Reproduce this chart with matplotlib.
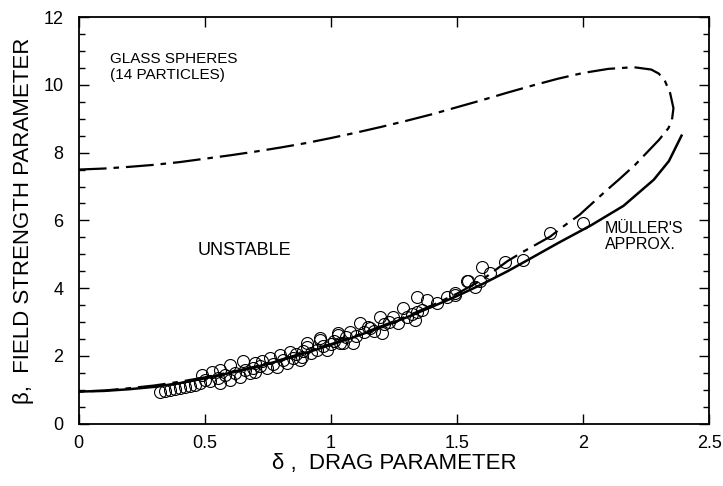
import matplotlib
matplotlib.use("Agg")
import matplotlib.pyplot as plt
from matplotlib.ticker import MultipleLocator

plt.rcParams['font.family'] = ['Liberation Sans', 'DejaVu Sans']
plt.rcParams['lines.scale_dashes'] = False

# solid curve (Muller's approximation)
solid_x = [0, 0.1, 0.2, 0.3, 0.4, 0.5, 0.6, 0.7, 0.8, 0.9, 1.0, 1.1, 1.2, 1.3,
           1.4, 1.5, 1.6, 1.7, 1.78, 1.9, 2.03, 2.16, 2.28, 2.34, 2.39]
solid_y = [0.95, 0.97, 1.02, 1.09, 1.2, 1.34, 1.5, 1.67, 1.87, 2.09, 2.33, 2.58,
           2.85, 3.14, 3.45, 3.77, 4.12, 4.5, 4.83, 5.33, 5.85, 6.43, 7.2, 7.75, 8.5]

# dash-dot stability boundary (upper branch, nose, lower branch)
bound_x = [0, 0.1, 0.2, 0.3, 0.4, 0.5, 0.6, 0.7, 0.8, 0.9, 1.0, 1.1, 1.2, 1.3,
           1.4, 1.5, 1.6, 1.7, 1.8, 1.9, 2.0, 2.1, 2.2, 2.27, 2.3, 2.325, 2.345,
           2.358, 2.352, 2.338, 2.3, 2.206, 2.144, 2.087, 1.985, 1.93, 1.869,
           1.763, 1.7, 1.6, 1.5, 1.4, 1.3, 1.2, 1.1, 1.0, 0.9, 0.8, 0.7, 0.6,
           0.5, 0.4, 0.3, 0.2, 0.1, 0]
bound_y = [7.5, 7.53, 7.58, 7.64, 7.72, 7.82, 7.92, 8.03, 8.15, 8.28, 8.43,
           8.59, 8.76, 8.94, 9.13, 9.34, 9.55, 9.77, 9.98, 10.18, 10.35, 10.47,
           10.52, 10.45, 10.33, 10.1, 9.75, 9.31, 8.96, 8.72, 8.37, 7.64, 7.22,
           6.85, 6.16, 5.87, 5.52, 5.08, 4.8, 4.25, 3.84, 3.49, 3.17, 2.88,
           2.6, 2.35, 2.11, 1.89, 1.69, 1.52, 1.37, 1.24, 1.13, 1.05, 0.98, 0.95]

# measured points (glass spheres)
data_x = [0.32, 0.34, 0.36, 0.38, 0.40, 0.42, 0.44, 0.46, 0.48, 0.49, 0.50,
          0.52, 0.53, 0.55, 0.56, 0.56, 0.58, 0.60, 0.60, 0.62, 0.64, 0.65,
          0.66, 0.68, 0.69, 0.70, 0.70, 0.72,
          0.725, 0.745, 0.758, 0.77, 0.784, 0.798, 0.81, 0.824, 0.837, 0.85,
          0.86, 0.877, 0.884, 0.89,
          0.904, 0.904, 0.92, 0.943, 0.956, 0.956, 0.97, 0.983, 1.0, 1.01,
          1.029, 1.029, 1.036, 1.049, 1.06, 1.075, 1.089, 1.1,
          1.115, 1.13, 1.148, 1.155, 1.17, 1.194, 1.201, 1.21, 1.23, 1.247,
          1.267, 1.287, 1.3, 1.32, 1.333, 1.34, 1.34,
          1.36, 1.38, 1.42, 1.459, 1.492, 1.492, 1.538, 1.545, 1.571, 1.59,
          1.598, 1.631, 1.69, 1.763, 1.869, 2.0]
data_y = [0.95, 0.97, 1.0, 1.02, 1.05, 1.08, 1.12, 1.15, 1.2, 1.44, 1.3,
          1.25, 1.54, 1.35, 1.2, 1.59, 1.45, 1.3, 1.74, 1.5, 1.39, 1.84,
          1.6, 1.49, 1.65, 1.79, 1.54, 1.7,
          1.84, 1.64, 1.94, 1.75, 1.69, 2.03, 1.88, 1.79, 2.13, 1.95,
          2.05, 1.89, 1.98, 2.15,
          2.28, 2.38, 2.1, 2.18, 2.48, 2.53, 2.3, 2.18, 2.35, 2.45,
          2.62, 2.67, 2.38, 2.38, 2.55, 2.72, 2.38, 2.6,
          2.97, 2.7, 2.87, 2.82, 2.75, 3.16, 2.67, 2.95, 3.0, 3.16,
          2.97, 3.41, 3.15, 3.25, 3.07, 3.3, 3.75,
          3.35, 3.66, 3.55, 3.75, 3.8, 3.85, 4.2, 4.2, 4.05, 4.2,
          4.64, 4.44, 4.78, 4.83, 5.63, 5.93]

x_ticks = [0, 0.5, 1, 1.5, 2, 2.5]
x_tick_labels = ['0', '0.5', '1', '1.5', '2', '2.5']

fig = plt.figure(figsize=(7.23, 4.86), dpi=100)
ax = fig.add_axes([0.109, 0.128, 0.872, 0.837])

ax.plot(data_x, data_y, 'o', mfc='none', mec='black', ms=8.6, mew=0.8)
ax.plot(solid_x, solid_y, color='black', lw=1.8)
ax.plot(bound_x, bound_y, color='black', lw=1.6, linestyle=(0, (20, 5, 4, 5)))

ax.set_xlim(0, 2.5)
ax.set_ylim(0, 12)
ax.set_xticks(x_ticks, x_tick_labels)
ax.yaxis.set_major_locator(MultipleLocator(2))
ax.yaxis.set_minor_locator(MultipleLocator(0.5))
ax.tick_params(which='both', direction='in', top=True, right=True, labelsize=13)
ax.tick_params(which='major', length=7, width=1)
ax.tick_params(which='minor', length=4, width=1)
ax.tick_params(axis='x', pad=8)
ax.tick_params(axis='y', pad=11)
for s in ax.spines.values():
    s.set_linewidth(1.3)

ax.set_xlabel('δ ,  DRAG PARAMETER', fontsize=16, labelpad=1)
ax.set_ylabel('β,  FIELD STRENGTH PARAMETER', fontsize=16, labelpad=7)

ax.text(0.125, 10.97, 'GLASS SPHERES\n(14 PARTICLES)', fontsize=11,
        va='top', ha='left', linespacing=1.15)
ax.text(0.47, 5.1, 'UNSTABLE', fontsize=13, va='center', ha='left')
ax.text(2.087, 5.98, 'MÜLLER\'S\nAPPROX.', fontsize=11.5, va='top', ha='left',
        linespacing=1.05)

fig.savefig('out.png', dpi=100)
